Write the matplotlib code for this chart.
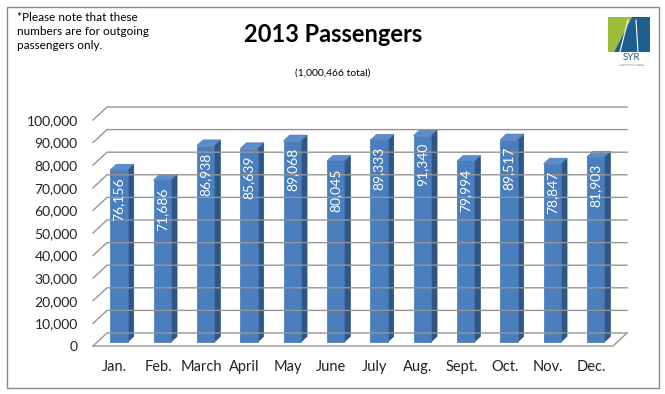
import numpy as np
import matplotlib
matplotlib.use('Agg')
import matplotlib.pyplot as plt
from matplotlib.patches import Polygon, Rectangle
from matplotlib.transforms import IdentityTransform, ScaledTranslation

months = ['Jan.', 'Feb.', 'March', 'April', 'May', 'June', 'July', 'Aug.',
          'Sept.', 'Oct.', 'Nov.', 'Dec.']
passengers = [76156, 71686, 86938, 85639, 89068, 80045, 89333, 91340,
              79994, 89517, 78847, 81903]
yticks = list(range(0, 100001, 10000))

plt.rcParams['font.family'] = ['Lato', 'DejaVu Sans']

W, H = 665, 394
fig = plt.figure(figsize=(W / 100, H / 100), dpi=100)

ax = fig.add_axes([93 / W, 48 / H, 520 / W, 226 / H])
ax.set_xlim(-0.5, 11.5)
ax.set_ylim(0, 100000)
ax.set_autoscale_on(False)
ax.patch.set_visible(False)
for s in ax.spines.values():
    s.set_visible(False)
ax.set_xticks(range(len(months)), months)
ax.set_yticks(yticks, [f'{v:,}' for v in yticks])
ax.tick_params(length=0, labelsize=10.5, colors='#222222')
ax.tick_params(axis='y', pad=11, labelsize=10)
ax.tick_params(axis='x', pad=10)

# depth of the fake 3d box, in pixels
depth = np.array([14.0, 13.0])
ident = IdentityTransform()
grid_kw = dict(color='#959595', lw=1.0, transform=ident, clip_on=False)


def T(x, y):
    return ax.transData.transform((x, y))


# back wall gridlines and left wall diagonals
for v in yticks:
    p0 = T(-0.5, v)
    p1 = p0 + depth
    p2 = T(11.5, v) + depth
    ax.plot([p0[0], p1[0], p2[0]], [p0[1], p1[1], p2[1]], **grid_kw)

# floor front and right edges
a, b = T(-0.5, 0), T(11.5, 0)
ax.plot([a[0], b[0], b[0] + depth[0]], [a[1], b[1], b[1] + depth[1]], **grid_kw)

# bars
f = 0.30 * depth
bk = 0.74 * depth
half = 0.2
for i, v in enumerate(passengers):
    xl0, xr0 = T(i - half, 0), T(i + half, 0)
    xlv, xrv = T(i - half, v), T(i + half, v)
    side = [xr0 + f, xr0 + bk, xrv + bk, xrv + f]
    top = [xlv + f, xrv + f, xrv + bk, xlv + bk]
    front = [xl0 + f, xr0 + f, xrv + f, xlv + f]
    ax.add_patch(Polygon(side, closed=True, fc='#2f5685', ec='#2a4d78',
                         lw=0.5, transform=ident, clip_on=False))
    ax.add_patch(Polygon(top, closed=True, fc='#5b8ccb', ec='#4f7fb8',
                         lw=0.5, transform=ident, clip_on=False))
    ax.add_patch(Polygon(front, closed=True, fc='#4a7ebd', ec='#4376b3',
                         lw=0.5, transform=ident, clip_on=False))
    off = ScaledTranslation(f[0] / 100, (f[1] - 7) / 100, fig.dpi_scale_trans)
    ax.text(i, v, f'{v:,}', rotation=90, ha='center', va='top', color='white',
            fontsize=10, transform=ax.transData + off, clip_on=False)

# titles and note
fig.text(333 / W, 1 - 35 / H, '2013 Passengers', ha='center', va='center',
         fontsize=17, fontweight='bold', color='black')
fig.text(333 / W, 1 - 73 / H, '(1,000,466 total)', ha='center', va='center',
         fontsize=7.5, color='black')
fig.text(17 / W, 1 - 12 / H,
         '*Please note that these\nnumbers are for outgoing\npassengers only.',
         ha='left', va='top', fontsize=8.5, linespacing=1.35, color='black')

# outer border
fig.add_artist(Rectangle((7 / W, 6 / H), 652 / W, 381 / H, transform=fig.transFigure,
                         fill=False, ec='#8a8a8a', lw=1.0))

# logo
def fp(pts):
    return [(x / W, 1 - y / H) for x, y in pts]


fig.add_artist(Polygon(fp([(608, 17), (632, 17), (614, 52), (608, 52)]),
                       closed=True, fc='#9cbd3c', ec='none', transform=fig.transFigure))
fig.add_artist(Polygon(fp([(632, 17), (650, 17), (650, 52), (614, 52)]),
                       closed=True, fc='#1f5f8e', ec='none', transform=fig.transFigure))
fig.add_artist(plt.Line2D([628 / W, 620 / W], [1 - 20 / H, 1 - 52 / H], color='white',
                          lw=0.8, transform=fig.transFigure))
fig.add_artist(plt.Line2D([636 / W, 638 / W], [1 - 20 / H, 1 - 52 / H], color='white',
                          lw=0.8, transform=fig.transFigure))
fig.text(631 / W, 1 - 58 / H, 'SYR', ha='center', va='center', fontsize=7,
         color='#1f5f8e')
fig.text(631 / W, 1 - 65 / H, 'SYRACUSE HANCOCK\nINTERNATIONAL AIRPORT', ha='center',
         va='center', fontsize=1.6, color='#666666', linespacing=1.2)

fig.savefig('out.png', dpi=100)
